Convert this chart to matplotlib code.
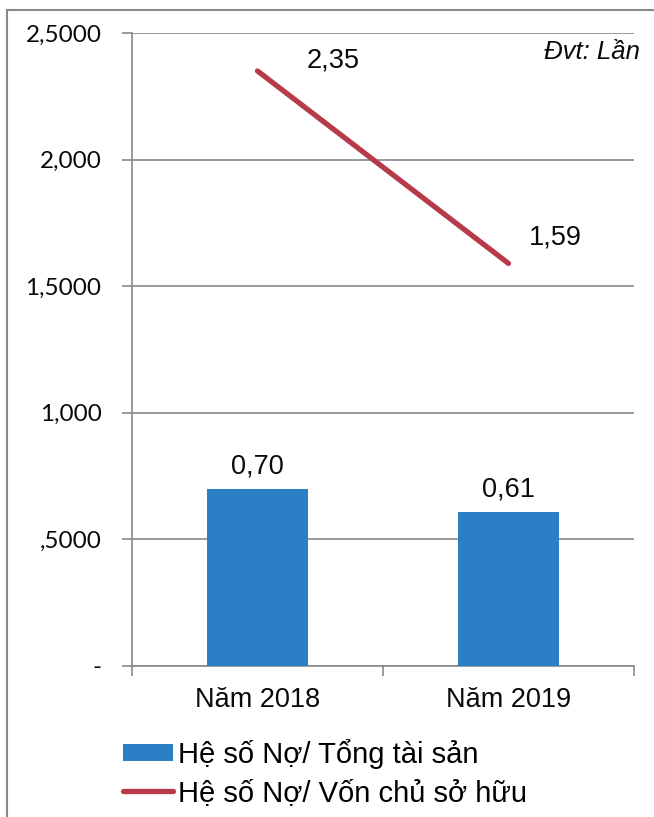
import matplotlib.pyplot as plt
from matplotlib.lines import Line2D
from matplotlib.patches import Patch

# data
years = ["Năm 2018", "Năm 2019"]
debt_to_assets = [0.70, 0.61]
debt_to_equity = [2.35, 1.59]
ytick_vals = [0, 0.5, 1.0, 1.5, 2.0, 2.5]
ytick_labels = ["-", ",5000", "1,000", "1,5000", "2,000", "2,5000"]
assets_labels = ["0,70", "0,61"]
equity_labels = ["2,35", "1,59"]
legend_names = ["Hệ số Nợ/ Tổng tài sản", "Hệ số Nợ/ Vốn chủ sở hữu"]

BLUE = "#2B7FC5"
RED = "#B73A4A"
GREY = "#858a8e"
TXT = "#0a0a0a"
FS = 19.5
W, H = 654, 817

fig = plt.figure(figsize=(W / 100, H / 100), dpi=100)
fig.patch.set_facecolor("white")
ax = fig.add_axes([132 / W, 1 - 666 / H, (634 - 132) / W, (666 - 33) / H])

x = [0.5, 1.5]
ax.bar(x, debt_to_assets, width=0.40, color=BLUE, zorder=3)
ax.plot(x, debt_to_equity, color=RED, lw=3.8, solid_capstyle="round", zorder=4)

ax.set_xlim(0, 2)
ax.set_ylim(0, 2.5)

# category ticks sit between groups, labels in the middle
ax.set_xticks(x)
ax.set_xticklabels(years, fontsize=FS, family="Liberation Sans", color=TXT)
ax.set_xticks([0, 1, 2], minor=True)
ax.tick_params(axis="x", which="major", length=0, pad=15)
ax.tick_params(axis="x", which="minor", length=7, width=1.2, color=GREY, direction="out")

ax.set_yticks(ytick_vals)
ax.set_yticklabels(ytick_labels, fontsize=17.5, family="Lato", color=TXT)
ax.tick_params(axis="y", length=7, width=1.2, color=GREY, pad=15)

ax.grid(axis="y", color=GREY, lw=1.2, zorder=0)
for side in ["top", "right"]:
    ax.spines[side].set_visible(False)
for side in ["left", "bottom"]:
    ax.spines[side].set_color(GREY)
    ax.spines[side].set_linewidth(1.2)

for xi, v, lab in zip(x, debt_to_assets, assets_labels):
    ax.annotate(lab, (xi, v), xytext=(0, 9), textcoords="offset pixels",
                ha="center", va="bottom", fontsize=FS, family="Liberation Sans", color=TXT)

ax.annotate(equity_labels[0], (x[0], debt_to_equity[0]), xytext=(76, 10),
            textcoords="offset pixels", ha="center", va="center",
            fontsize=FS, family="Liberation Sans", color=TXT)
ax.annotate(equity_labels[1], (x[1], debt_to_equity[1]), xytext=(47, 26),
            textcoords="offset pixels", ha="center", va="center",
            fontsize=FS, family="Liberation Sans", color=TXT)

fig.text(640 / W, 1 - 52 / H, "Đvt: Lần", ha="right", va="center",
         fontsize=18.5, style="italic", family="Liberation Sans", color=TXT)

handles = [Patch(facecolor=BLUE, edgecolor="none"),
           Line2D([0], [0], color=RED, lw=3.8, solid_capstyle="round")]
fig.legend(handles, legend_names, loc="upper left",
           bbox_to_anchor=(123 / W, 1 - 739 / H), frameon=False,
           prop={"family": "Liberation Sans", "size": 21},
           handlelength=1.72, handleheight=0.5, handletextpad=0.18,
           labelspacing=0.33, borderpad=0, borderaxespad=0)

# outer frame (only left and top edges show in the crop)
fig.add_artist(Line2D([7 / W, 7 / W], [0, 1 - 10 / H], color=GREY, lw=1.5))
fig.add_artist(Line2D([7 / W, 1], [1 - 10 / H, 1 - 10 / H], color=GREY, lw=1.5))

fig.savefig("out.png", dpi=100)
